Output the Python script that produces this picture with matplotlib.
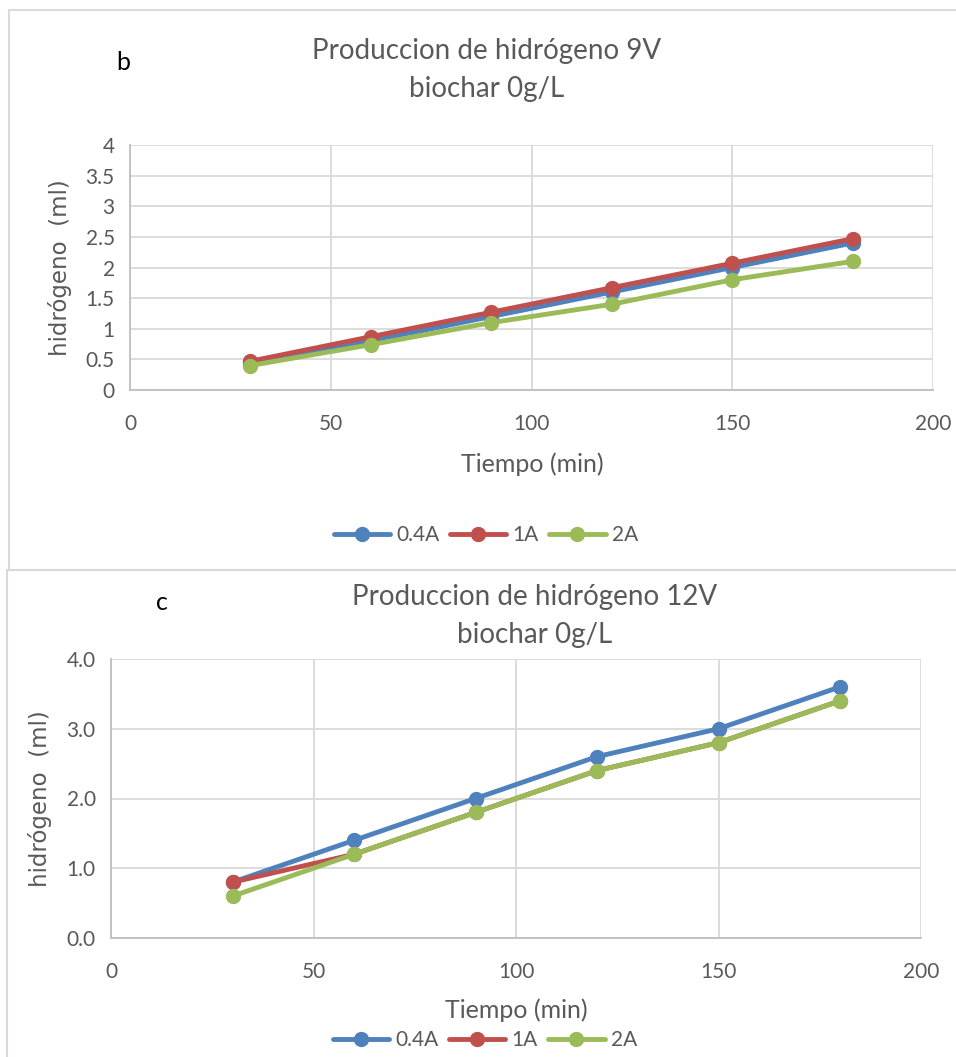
import matplotlib.pyplot as plt
import matplotlib.patches as patches
from matplotlib.ticker import FuncFormatter, MultipleLocator

W, H = 956, 1057

tiempo = [30, 60, 90, 120, 150, 180]
series_names = ['0.4A', '1A', '2A']
colors = ['#4F81BD', '#C0504D', '#9BBB59']

# panel b: 9V
b_04A = [0.43, 0.80, 1.20, 1.60, 2.00, 2.40]
b_1A = [0.47, 0.87, 1.27, 1.67, 2.07, 2.47]
b_2A = [0.40, 0.74, 1.10, 1.40, 1.80, 2.10]

# panel c: 12V
c_04A = [0.8, 1.4, 2.0, 2.6, 3.0, 3.6]
c_1A = [0.8, 1.2, 1.8, 2.4, 2.8, 3.4]
c_2A = [0.6, 1.2, 1.8, 2.4, 2.8, 3.4]

txt = '#595959'
grid = '#D9D9D9'
main_font = ['Lato', 'DejaVu Sans']

fig = plt.figure(figsize=(W / 100, H / 100), dpi=100)


def px_axes(x0, y0, x1, y1):
    return fig.add_axes([x0 / W, 1 - y1 / H, (x1 - x0) / W, (y1 - y0) / H])


def fx(x):
    return x / W


def fy(y):
    return 1 - y / H


# chart frames
for (x0, y0, x1, y1) in [(9, 10, 980, 570), (7, 570, 980, 1080)]:
    fig.patches.append(patches.Rectangle((fx(x0), fy(y1)), fx(x1 - x0), (y1 - y0) / H,
                                         transform=fig.transFigure, fill=False,
                                         edgecolor=grid, lw=1.5))


def draw(ax, data, ystep, fmt):
    for vals, name, col in zip(data, series_names, colors):
        ax.plot(tiempo, vals, color=col, lw=3.5, marker='o', markersize=10,
                label=name, solid_capstyle='round', clip_on=False, zorder=3)
    ax.set_xlim(0, 200)
    ax.set_ylim(0, 4)
    ax.xaxis.set_major_locator(MultipleLocator(50))
    ax.yaxis.set_major_locator(MultipleLocator(ystep))
    ax.yaxis.set_major_formatter(FuncFormatter(fmt))
    ax.grid(True, color=grid, lw=1.3)
    ax.set_axisbelow(True)
    for s in ['top', 'right']:
        ax.spines[s].set_visible(False)
    for s in ['left', 'bottom']:
        ax.spines[s].set_color('#BFBFBF')
        ax.spines[s].set_linewidth(1.3)
    ax.tick_params(length=0, labelsize=15, labelcolor=txt)
    ax.tick_params(axis='y', pad=11)
    ax.tick_params(axis='x', pad=17)
    for lab in ax.get_xticklabels() + ax.get_yticklabels():
        lab.set_family(main_font)


ax1 = px_axes(130, 145, 933, 390)
draw(ax1, [b_04A, b_1A, b_2A], 0.5, lambda v, p: '%g' % v)
ax2 = px_axes(111, 659, 921, 938)
draw(ax2, [c_04A, c_1A, c_2A], 1.0, lambda v, p: '%.1f' % v)

# titles and labels
fig.text(fx(487), fy(51), 'Produccion de hidrógeno 9V', ha='center', va='center',
         fontsize=20, color=txt, family=main_font)
fig.text(fx(487), fy(89), 'biochar 0g/L', ha='center', va='center',
         fontsize=20, color=txt, family=main_font)
fig.text(fx(123), fy(63), 'b', ha='center', va='center', fontsize=18, color='black',
         family=main_font)
fig.text(fx(532), fy(464), 'Tiempo (min)', ha='center', va='center', fontsize=18,
         color=txt, family=main_font)
fig.text(fx(60), fy(268), 'hidrógeno  (ml)', ha='center', va='center', rotation=90,
         fontsize=16.5, color=txt, family='DejaVu Sans')

fig.text(fx(535), fy(597), 'Produccion de hidrógeno 12V', ha='center', va='center',
         fontsize=20, color=txt, family=main_font)
fig.text(fx(535), fy(635), 'biochar 0g/L', ha='center', va='center',
         fontsize=20, color=txt, family=main_font)
fig.text(fx(162), fy(602), 'c', ha='center', va='center', fontsize=18, color='black',
         family=main_font)
fig.text(fx(516), fy(1010), 'Tiempo (min)', ha='center', va='center', fontsize=18,
         color=txt, family=main_font)
fig.text(fx(40), fy(799), 'hidrógeno  (ml)', ha='center', va='center', rotation=90,
         fontsize=16.5, color=txt, family='DejaVu Sans')

for ax, (cx, cy) in [(ax1, (486, 535)), (ax2, (485, 1040))]:
    h, l = ax.get_legend_handles_labels()
    leg = fig.legend(h, l, loc='center', bbox_to_anchor=(fx(cx), fy(cy)), ncol=3,
                     frameon=False, handlelength=2.7, handletextpad=0.3,
                     columnspacing=0.5, prop={'family': main_font, 'size': 15})
    for t in leg.get_texts():
        t.set_color(txt)

fig.savefig('out.png', dpi=100, facecolor='white')
